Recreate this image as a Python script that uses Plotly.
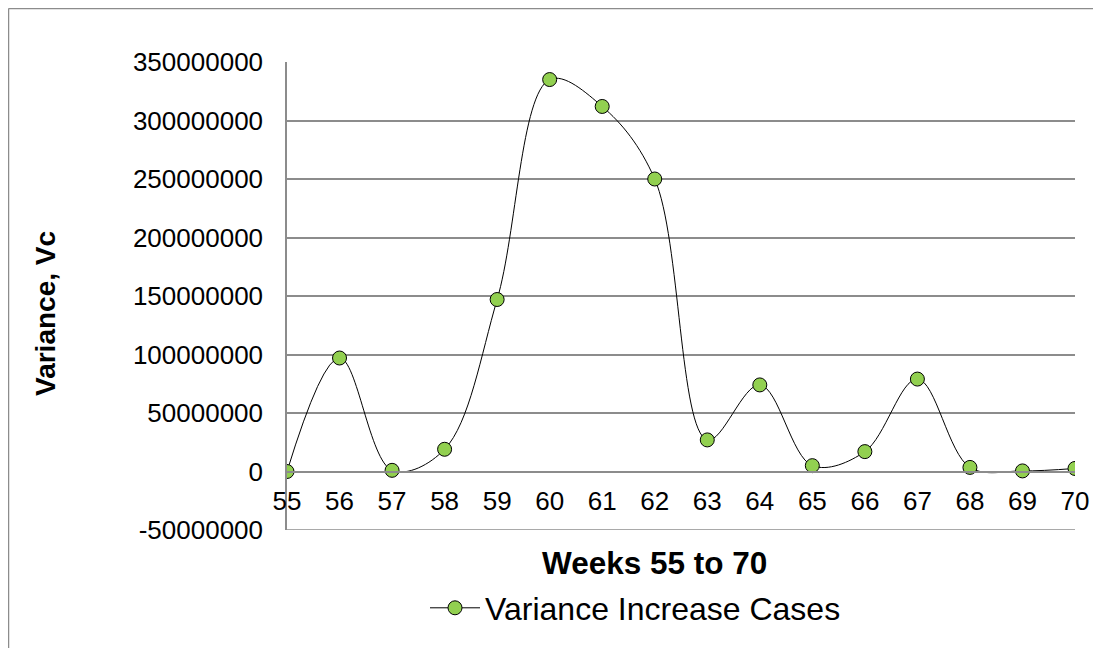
import plotly.graph_objects as go

weeks = [55, 56, 57, 58, 59, 60, 61, 62, 63, 64, 65, 66, 67, 68, 69, 70]
variance = [0, 97000000, 1000000, 19000000, 147000000, 335000000, 312000000,
            250000000, 27000000, 74000000, 5000000, 17000000, 79000000,
            3500000, 500000, 2600000]
y_ticks = [-50000000, 0, 50000000, 100000000, 150000000, 200000000,
           250000000, 300000000, 350000000]
series_name = "Variance Increase Cases"
x_title = "Weeks 55 to 70"
y_title = "Variance, Vc"

# page is 1101x656 with an 8px body margin around the figure
OFF = 8
W, H = 1101 - 2 * OFF, 656 - 2 * OFF
L, T = 287 - OFF, 62 - OFF
R = W - (1075 - OFF)
B = H - (530 - OFF)
pw, ph = W - L - R, H - T - B

def px_x(px):  # page pixel -> paper x
    return (px - OFF - L) / pw

def px_y(py):  # page pixel -> paper y
    return (H - B - (py - OFF)) / ph

GRID = "#8c8c8c"
FONT = "Arial, Liberation Sans, sans-serif"

fig = go.Figure()
fig.add_trace(go.Scatter(
    x=weeks, y=variance, mode="lines+markers", name=series_name,
    line=dict(color="black", width=1, shape="spline", smoothing=1),
    marker=dict(size=14, color="#92D050", line=dict(color="black", width=1)),
))

fig.update_layout(
    width=W, height=H,
    margin=dict(l=L, r=R, t=T, b=B, autoexpand=False),
    paper_bgcolor="white", plot_bgcolor="white",
    font=dict(family=FONT, color="black"),
    showlegend=True,
    legend=dict(orientation="h", x=px_x(425), xanchor="left",
                y=px_y(608), yanchor="middle", itemwidth=50,
                font=dict(size=32, family=FONT), bgcolor="rgba(0,0,0,0)"),
    xaxis=dict(
        range=[weeks[0], weeks[-1]], tickvals=weeks,
        ticktext=[str(w) for w in weeks],
        anchor="free", position=(0 - y_ticks[0]) / (y_ticks[-1] - y_ticks[0]),
        showline=True, linecolor=GRID, linewidth=1.5,
        showgrid=False, zeroline=False, ticks="",
        tickfont=dict(size=26, family=FONT), ticklabelstandoff=7,
    ),
    yaxis=dict(
        range=[y_ticks[0], y_ticks[-1]], tickvals=y_ticks,
        ticktext=[str(v) for v in y_ticks],
        showline=True, linecolor=GRID, linewidth=1.5,
        showgrid=True, gridcolor=GRID, gridwidth=1.5,
        zeroline=False, ticks="",
        tickfont=dict(size=26, family=FONT), ticklabelstandoff=17,
    ),
    annotations=[
        dict(text=f"<b>{x_title}</b>", xref="paper", yref="paper",
             x=px_x(654), y=px_y(563), xanchor="center", yanchor="middle",
             showarrow=False, font=dict(size=31.5, family=FONT)),
        dict(text=f"<b>{y_title}</b>", xref="paper", yref="paper",
             x=px_x(45), y=px_y(314), xanchor="center", yanchor="middle",
             textangle=-90, showarrow=False, font=dict(size=28, family=FONT)),
    ],
    shapes=[
        dict(type="line", xref="paper", yref="y", layer="below",
             x0=0, x1=1, y0=y_ticks[0], y1=y_ticks[0],
             line=dict(color=GRID, width=1.5)),
        dict(type="line", xref="paper", yref="paper",
             x0=px_x(8.5), x1=px_x(8.5), y0=px_y(700), y1=px_y(8.5),
             line=dict(color=GRID, width=1.5)),
        dict(type="line", xref="paper", yref="paper",
             x0=px_x(8.5), x1=px_x(1150), y0=px_y(8.5), y1=px_y(8.5),
             line=dict(color=GRID, width=1.5)),
    ],
)

fig.write_html("out.html")
